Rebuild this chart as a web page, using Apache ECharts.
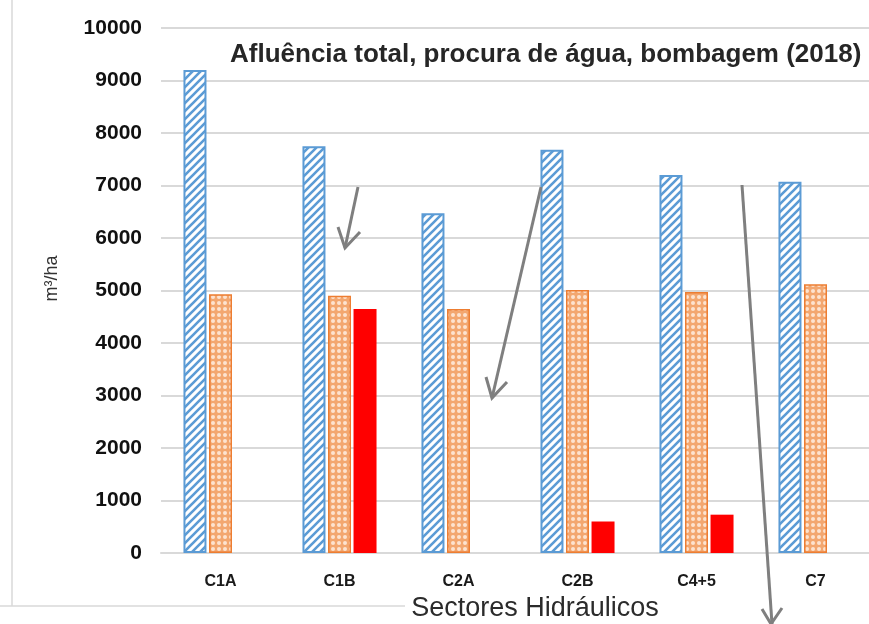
<!DOCTYPE html>
<html>
<head>
<meta charset="utf-8">
<script src="https://cdn.jsdelivr.net/npm/echarts@6/dist/echarts.min.js"></script>
<style>
  html, body { margin: 0; padding: 0; background: #fff; }
  #chart { width: 869px; height: 624px; }
</style>
</head>
<body>
<div id="chart"></div>
<script>
// sectors and values (m3/ha)
const sectors = ['C1A', 'C1B', 'C2A', 'C2B', 'C4+5', 'C7'];
const afluencia = [9200, 7750, 6470, 7680, 7200, 7070];
const procura = [4930, 4900, 4650, 5010, 4970, 5120];
const bombagem = [null, 4650, null, 600, 730, null];
const yTicks = [0, 1000, 2000, 3000, 4000, 5000, 6000, 7000, 8000, 9000, 10000];

function stripes() {
    let c = document.createElement('canvas');
    c.width = 8; c.height = 8;
    let ctx = c.getContext('2d');
    ctx.fillStyle = '#ffffff';
    ctx.fillRect(0, 0, 8, 8);
    ctx.strokeStyle = '#5b9bd5';
    ctx.lineWidth = 2.6;
    ctx.beginPath();
    ctx.moveTo(-2, 10); ctx.lineTo(10, -2);
    ctx.moveTo(-6, 6); ctx.lineTo(6, -6);
    ctx.moveTo(2, 14); ctx.lineTo(14, 2);
    ctx.stroke();
    return c;
}

function dots() {
    let c = document.createElement('canvas');
    c.width = 6; c.height = 6;
    let ctx = c.getContext('2d');
    ctx.fillStyle = '#f3a770';
    ctx.fillRect(0, 0, 6, 6);
    ctx.fillStyle = '#fde3d0';
    ctx.beginPath();
    ctx.arc(3, 3, 2, 0, Math.PI * 2);
    ctx.fill();
    return c;
}

let chart = echarts.init(document.getElementById('chart'));

const arrowStyle = {stroke: '#7f7f7f', lineWidth: 3, fill: null};

chart.setOption({
    animation: false,
    backgroundColor: '#ffffff',
    title: {
        text: 'Afluência total, procura de água, bombagem (2018)',
        left: 225,
        top: 37,
        textStyle: {
            fontFamily: 'Liberation Sans, sans-serif',
            fontWeight: 'bold',
            fontSize: 26,
            color: '#262626'
        }
    },
    grid: {
        left: 161,
        right: -6,
        top: 28,
        bottom: 71,
        outerBoundsMode: 'none'
    },
    xAxis: {
        type: 'category',
        data: sectors,
        name: 'Sectores Hidráulicos',
        nameLocation: 'middle',
        nameGap: 41,
        nameTextStyle: {
            fontFamily: 'Liberation Sans, sans-serif',
            fontSize: 27,
            color: '#2b2b2b',
            padding: [0, 0, 0, 34]
        },
        axisLine: {lineStyle: {color: '#d9d9d9', width: 2}},
        axisTick: {show: false},
        axisLabel: {
            margin: 21,
            fontFamily: 'Liberation Sans, sans-serif',
            fontWeight: 'bold',
            fontSize: 16,
            color: '#1a1a1a'
        }
    },
    yAxis: {
        type: 'value',
        min: 0,
        max: 10000,
        interval: 1000,
        name: 'm³/ha',
        nameLocation: 'middle',
        nameGap: 100,
        nameRotate: 90,
        nameTextStyle: {
            fontFamily: 'Liberation Sans, sans-serif',
            fontSize: 18,
            color: '#333333',
            padding: [0, 0, 0, 24]
        },
        axisLine: {show: false},
        axisTick: {show: false},
        splitLine: {lineStyle: {color: '#d9d9d9', width: 2}},
        axisLabel: {
            margin: 19,
            fontFamily: 'Liberation Sans, sans-serif',
            fontWeight: 'bold',
            fontSize: 21,
            color: '#111111',
            formatter: function (v) { return yTicks.indexOf(v) >= 0 ? String(v) : ''; }
        }
    },
    series: [
        {
            name: 'Afluência total',
            type: 'bar',
            data: afluencia,
            barWidth: 23,
            barGap: '11%',
            itemStyle: {
                color: {image: stripes(), repeat: 'repeat'},
                borderColor: '#5b9bd5',
                borderWidth: 2
            }
        },
        {
            name: 'Procura de água',
            type: 'bar',
            data: procura,
            barWidth: 23,
            barGap: '11%',
            itemStyle: {
                color: {image: dots(), repeat: 'repeat'},
                borderColor: '#ed7d31',
                borderWidth: 1.5
            }
        },
        {
            name: 'Bombagem',
            type: 'bar',
            data: bombagem,
            barWidth: 23,
            barGap: '11%',
            itemStyle: {color: '#ff0000'}
        }
    ],
    graphic: [
        // frame of the original figure
        {type: 'line', shape: {x1: 12, y1: 0, x2: 12, y2: 606}, style: {stroke: '#d9d9d9', lineWidth: 1.5}, silent: true},
        {type: 'line', shape: {x1: 0, y1: 606, x2: 405, y2: 606}, style: {stroke: '#d9d9d9', lineWidth: 1.5}, silent: true, z: -1},
        // hand drawn arrows
        {type: 'polyline', shape: {points: [[358, 187], [345, 248]]}, style: arrowStyle, z: 100},
        {type: 'polyline', shape: {points: [[338, 227], [345, 248], [360, 232]]}, style: arrowStyle, z: 100},
        {type: 'polyline', shape: {points: [[541, 187], [492, 398]]}, style: arrowStyle, z: 100},
        {type: 'polyline', shape: {points: [[486, 377], [492, 398], [507, 382]]}, style: arrowStyle, z: 100},
        {type: 'polyline', shape: {points: [[742, 185], [772, 624]]}, style: arrowStyle, z: 100},
        {type: 'polyline', shape: {points: [[762, 609], [771, 624], [782, 608]]}, style: arrowStyle, z: 100}
    ]
});
</script>
</body>
</html>
